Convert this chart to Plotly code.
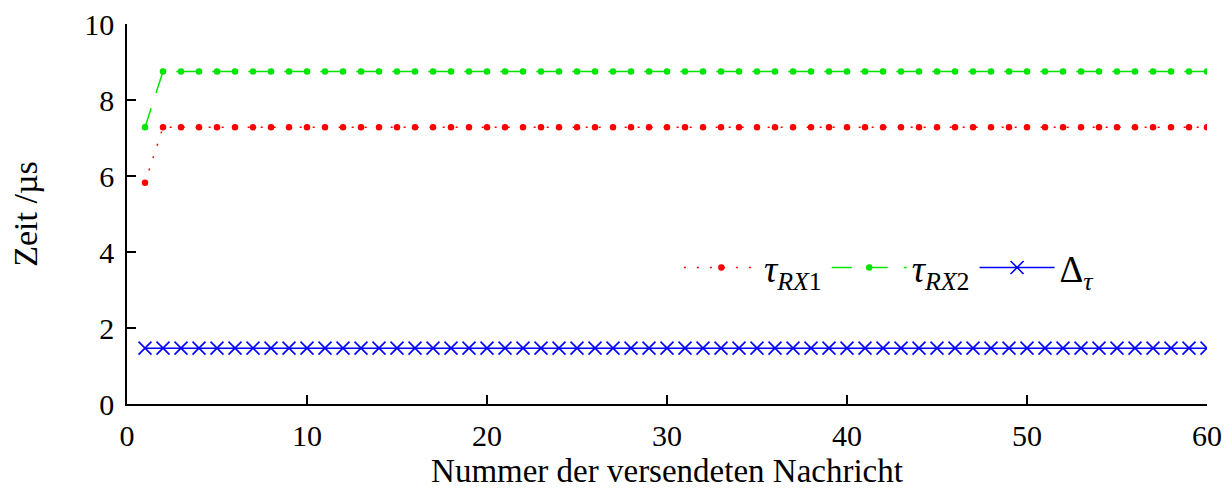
import plotly.graph_objects as go

# message index 1..60
nachricht = list(range(1, 61))

tau_rx1 = [5.82, 7.28, 7.28, 7.28, 7.28, 7.28, 7.28, 7.28, 7.28, 7.28,
           7.28, 7.28, 7.28, 7.28, 7.28, 7.28, 7.28, 7.28, 7.28, 7.28,
           7.28, 7.28, 7.28, 7.28, 7.28, 7.28, 7.28, 7.28, 7.28, 7.28,
           7.28, 7.28, 7.28, 7.28, 7.28, 7.28, 7.28, 7.28, 7.28, 7.28,
           7.28, 7.28, 7.28, 7.28, 7.28, 7.28, 7.28, 7.28, 7.28, 7.28,
           7.28, 7.28, 7.28, 7.28, 7.28, 7.28, 7.28, 7.28, 7.28, 7.28]

tau_rx2 = [7.28, 8.75, 8.75, 8.75, 8.75, 8.75, 8.75, 8.75, 8.75, 8.75,
           8.75, 8.75, 8.75, 8.75, 8.75, 8.75, 8.75, 8.75, 8.75, 8.75,
           8.75, 8.75, 8.75, 8.75, 8.75, 8.75, 8.75, 8.75, 8.75, 8.75,
           8.75, 8.75, 8.75, 8.75, 8.75, 8.75, 8.75, 8.75, 8.75, 8.75,
           8.75, 8.75, 8.75, 8.75, 8.75, 8.75, 8.75, 8.75, 8.75, 8.75,
           8.75, 8.75, 8.75, 8.75, 8.75, 8.75, 8.75, 8.75, 8.75, 8.75]

delta_tau = [1.47, 1.47, 1.47, 1.47, 1.47, 1.47, 1.47, 1.47, 1.47, 1.47,
             1.47, 1.47, 1.47, 1.47, 1.47, 1.47, 1.47, 1.47, 1.47, 1.47,
             1.47, 1.47, 1.47, 1.47, 1.47, 1.47, 1.47, 1.47, 1.47, 1.47,
             1.47, 1.47, 1.47, 1.47, 1.47, 1.47, 1.47, 1.47, 1.47, 1.47,
             1.47, 1.47, 1.47, 1.47, 1.47, 1.47, 1.47, 1.47, 1.47, 1.47,
             1.47, 1.47, 1.47, 1.47, 1.47, 1.47, 1.47, 1.47, 1.47, 1.47]

x_ticks = [0, 10, 20, 30, 40, 50, 60]
y_ticks = [0, 2, 4, 6, 8, 10]

FONT = "Liberation Serif"

fig = go.Figure()

fig.add_trace(go.Scatter(
    x=nachricht, y=tau_rx1, mode="lines+markers",
    name="<i>τ</i><sub><i>RX</i>1</sub>",
    line=dict(color="rgb(255,0,0)", width=1.5, dash="2px,11px"),
    marker=dict(symbol="circle", size=6.5, color="rgb(255,0,0)"),
))
fig.add_trace(go.Scatter(
    x=nachricht, y=tau_rx2, mode="lines+markers",
    name="<i>τ</i><sub><i>RX</i>2</sub>",
    line=dict(color="rgb(0,230,0)", width=1.5, dash="20px,16px"),
    marker=dict(symbol="circle", size=6.5, color="rgb(0,230,0)"),
))
fig.add_trace(go.Scatter(
    x=nachricht, y=delta_tau, mode="lines+markers",
    name="Δ<sub><i>τ</i></sub>",
    line=dict(color="rgb(0,0,255)", width=1.5),
    marker=dict(symbol="x-thin", size=13,
                line=dict(color="rgb(0,0,255)", width=1.6)),
))

fig.update_layout(
    width=1231, height=492,
    margin=dict(l=127, r=24, t=24, b=88, autoexpand=False),
    paper_bgcolor="white", plot_bgcolor="white",
    font=dict(family=FONT, size=30, color="black"),
    showlegend=True,
    legend=dict(
        orientation="h", x=0.511, y=0.358, xanchor="left", yanchor="middle",
        bgcolor="rgba(0,0,0,0)", itemwidth=75, font=dict(size=37),
        tracegroupgap=0,
    ),
)

fig.update_xaxes(
    range=[0, 60], tickvals=x_ticks, ticks="inside", ticklen=9,
    tickwidth=1.5, tickcolor="black", showline=True, linecolor="black",
    linewidth=1.5, showgrid=False, zeroline=False, automargin=False,
    tickfont=dict(size=30), ticklabelstandoff=4,
    title=dict(text="Nummer der versendeten Nachricht", standoff=8,
               font=dict(size=33)),
)
fig.update_yaxes(
    range=[0, 10], tickvals=y_ticks, ticks="inside", ticklen=9,
    tickwidth=1.5, tickcolor="black", showline=True, linecolor="black",
    linewidth=1.5, showgrid=False, zeroline=False, automargin=False,
    tickfont=dict(size=30), ticklabelstandoff=5,
    title=dict(text="Zeit /µs", standoff=36, font=dict(size=34)),
)

fig.write_html("out.html")
